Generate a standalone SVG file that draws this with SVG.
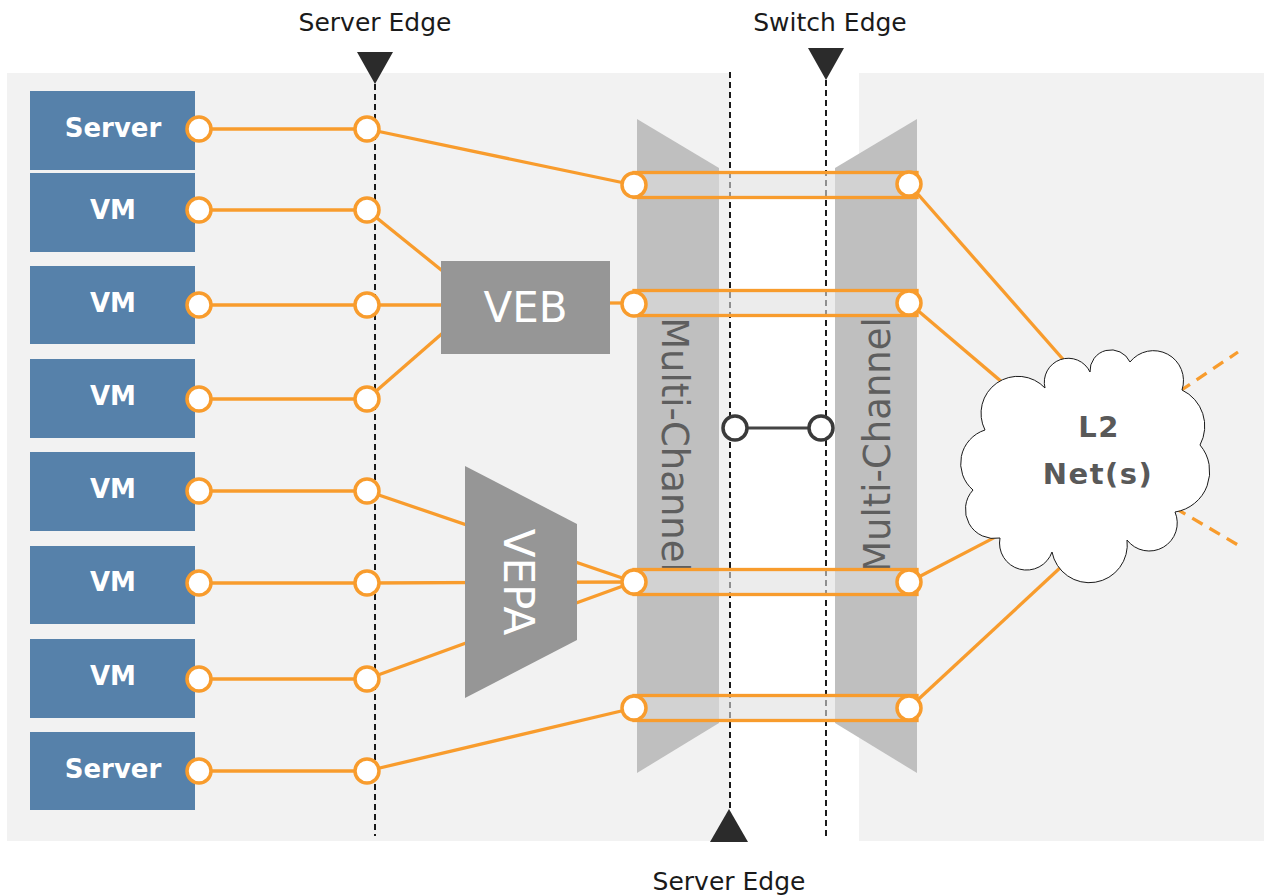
<svg xmlns="http://www.w3.org/2000/svg" width="1264" height="895" viewBox="0 0 1264 895">
<defs>
<style>
.box{fill:#5681aa}
.btxt{font-family:"DejaVu Sans",Verdana,sans-serif;font-weight:bold;font-size:26px;fill:#ffffff;text-anchor:middle}
.lbl{font-family:"DejaVu Sans",Verdana,sans-serif;font-size:25px;fill:#1a1a1a;text-anchor:middle}
.mc{fill:#bfbfbf}
.mctxt{font-family:"DejaVu Sans",Verdana,sans-serif;font-size:37px;fill:#5e5e5e;text-anchor:middle}
.gray{fill:#969696}
.gtxt{font-family:"DejaVu Sans",Verdana,sans-serif;font-size:42px;fill:#ffffff;text-anchor:middle}
.edge{stroke:#1a1a1a;stroke-width:2;stroke-dasharray:6 4;fill:none}
.tri{fill:#2b2b2b}
.conn{stroke:#f89c2d;stroke-width:3.3;fill:none}
.bar{fill:#e0e0e0;fill-opacity:0.6;stroke:#f89c2d;stroke-width:3.3}
.port{fill:#ffffff;stroke:#f89c2d;stroke-width:3.5}
.dport{fill:#ffffff;stroke:#3a3a3a;stroke-width:3.5}
.ctxt{font-family:"DejaVu Sans",Verdana,sans-serif;font-weight:bold;font-size:29px;fill:#595959;text-anchor:middle;letter-spacing:1.5px}
</style>
</defs>
<rect width="1264" height="895" fill="#ffffff"/>
<rect x="7" y="73" width="723" height="768" fill="#f2f2f2"/>
<rect x="859" y="73" width="405" height="768" fill="#f2f2f2"/>

<g id="multichannel-left">
<polygon class="mc" points="637,119 719,168 719,723 637,773"/>
<text class="mctxt" transform="translate(662,445) rotate(90)">Multi-Channel</text>
</g>
<g id="multichannel-right">
<polygon class="mc" points="835,168 917,119 917,773 835,723"/>
<text class="mctxt" transform="translate(890,445) rotate(-90)">Multi-Channel</text>
</g>

<g id="edges">
<line class="edge" x1="375" y1="84" x2="375" y2="836"/>
<line class="edge" x1="730" y1="72" x2="730" y2="810"/>
<line class="edge" x1="826" y1="80" x2="826" y2="836"/>
<polygon class="tri" points="357,52 393,52 375,84"/>
<polygon class="tri" points="808,48 844,48 826,80"/>
<polygon class="tri" points="710,842 748,842 729,809"/>
<text class="lbl" x="375" y="31">Server Edge</text>
<text class="lbl" x="830" y="31">Switch Edge</text>
<text class="lbl" x="729" y="890">Server Edge</text>
</g>

<g id="channels">
<rect class="bar" x="634" y="172.5" width="283" height="25"/>
<rect class="bar" x="634" y="290.5" width="283" height="25"/>
<rect class="bar" x="634" y="569.5" width="283" height="25"/>
<rect class="bar" x="634" y="695.5" width="283" height="25"/>
</g>

<g id="connectors">
<line class="conn" x1="199" y1="129" x2="367" y2="129"/>
<line class="conn" x1="367" y1="129" x2="634" y2="185"/>
<line class="conn" x1="199" y1="210" x2="367" y2="210"/>
<line class="conn" x1="367" y1="210" x2="445" y2="273"/>
<line class="conn" x1="199" y1="305" x2="367" y2="305"/>
<line class="conn" x1="367" y1="305" x2="445" y2="305"/>
<line class="conn" x1="199" y1="399" x2="367" y2="399"/>
<line class="conn" x1="367" y1="399" x2="445" y2="331"/>
<line class="conn" x1="605" y1="303" x2="634" y2="303"/>
<line class="conn" x1="199" y1="491" x2="367" y2="491"/>
<line class="conn" x1="367" y1="491" x2="634" y2="582"/>
<line class="conn" x1="199" y1="583" x2="367" y2="583"/>
<line class="conn" x1="367" y1="583" x2="634" y2="582"/>
<line class="conn" x1="199" y1="679" x2="367" y2="679"/>
<line class="conn" x1="367" y1="679" x2="634" y2="582"/>
<line class="conn" x1="199" y1="771" x2="367" y2="771"/>
<line class="conn" x1="367" y1="771" x2="634" y2="708"/>
<line class="conn" x1="909" y1="184" x2="1090" y2="390"/>
<line class="conn" x1="909" y1="303" x2="1030" y2="406"/>
<line class="conn" x1="909" y1="582" x2="1030" y2="519"/>
<line class="conn" x1="909" y1="708" x2="1075" y2="554"/>
<line class="conn" x1="1180" y1="391" x2="1238" y2="352" stroke-dasharray="12 8"/>
<line class="conn" x1="1175" y1="508" x2="1238" y2="545" stroke-dasharray="12 8"/>
<line x1="735" y1="428" x2="821" y2="428" stroke="#444444" stroke-width="3"/>
</g>

<g id="veb">
<rect class="gray" x="441" y="261" width="169" height="93"/>
<text class="gtxt" x="525.5" y="322">VEB</text>
</g>
<g id="vepa">
<polygon class="gray" points="465,466 577,524 577,640 465,698"/>
<text class="gtxt" transform="translate(504,582) rotate(90)">VEPA</text>
</g>

<g id="server1"><rect class="box" x="30" y="91" width="165" height="79"/><text class="btxt" x="113" y="137">Server</text></g>
<g id="vm1"><rect class="box" x="30" y="173" width="165" height="79"/><text class="btxt" x="113" y="219">VM</text></g>
<g id="vm2"><rect class="box" x="30" y="266" width="165" height="78"/><text class="btxt" x="113" y="312">VM</text></g>
<g id="vm3"><rect class="box" x="30" y="359" width="165" height="79"/><text class="btxt" x="113" y="405">VM</text></g>
<g id="vm4"><rect class="box" x="30" y="452" width="165" height="79"/><text class="btxt" x="113" y="498">VM</text></g>
<g id="vm5"><rect class="box" x="30" y="546" width="165" height="78"/><text class="btxt" x="113" y="591">VM</text></g>
<g id="vm6"><rect class="box" x="30" y="639" width="165" height="79"/><text class="btxt" x="113" y="685">VM</text></g>
<g id="server2"><rect class="box" x="30" y="732" width="165" height="78"/><text class="btxt" x="113" y="778">Server</text></g>

<g id="ports">
<circle class="port" cx="199" cy="129" r="12"/><circle class="port" cx="367" cy="129" r="12"/>
<circle class="port" cx="199" cy="210" r="12"/><circle class="port" cx="367" cy="210" r="12"/>
<circle class="port" cx="199" cy="305" r="12"/><circle class="port" cx="367" cy="305" r="12"/>
<circle class="port" cx="199" cy="399" r="12"/><circle class="port" cx="367" cy="399" r="12"/>
<circle class="port" cx="199" cy="491" r="12"/><circle class="port" cx="367" cy="491" r="12"/>
<circle class="port" cx="199" cy="583" r="12"/><circle class="port" cx="367" cy="583" r="12"/>
<circle class="port" cx="199" cy="679" r="12"/><circle class="port" cx="367" cy="679" r="12"/>
<circle class="port" cx="199" cy="771" r="12"/><circle class="port" cx="367" cy="771" r="12"/>
<circle class="port" cx="634" cy="185" r="12"/><circle class="port" cx="909" cy="184" r="12"/>
<circle class="port" cx="634" cy="304" r="12"/><circle class="port" cx="909" cy="303" r="12"/>
<circle class="port" cx="634" cy="582" r="12"/><circle class="port" cx="909" cy="582" r="12"/>
<circle class="port" cx="634" cy="708" r="12"/><circle class="port" cx="909" cy="708" r="12"/>
<circle class="dport" cx="735" cy="428" r="12"/><circle class="dport" cx="821" cy="428" r="12"/>
</g>

<g id="l2net">
<path d="M 985 430 A 37 37 0 0 1 1045 388 A 24 24 0 0 1 1090 372 A 21 21 0 0 1 1130 362 A 30 30 0 0 1 1182 390 A 40 40 0 0 1 1200 445 A 41 41 0 0 1 1175 512 A 28 28 0 0 1 1127 540 A 38 38 0 0 1 1052 552 A 27 27 0 0 1 1000 538 A 29 29 0 0 1 973 490 A 35 35 0 0 1 985 430 Z" fill="#ffffff" stroke="#1a1a1a" stroke-width="1"/>
<text class="ctxt" x="1099" y="437">L2</text>
<text class="ctxt" x="1098" y="484">Net(s)</text>
</g>
</svg>
